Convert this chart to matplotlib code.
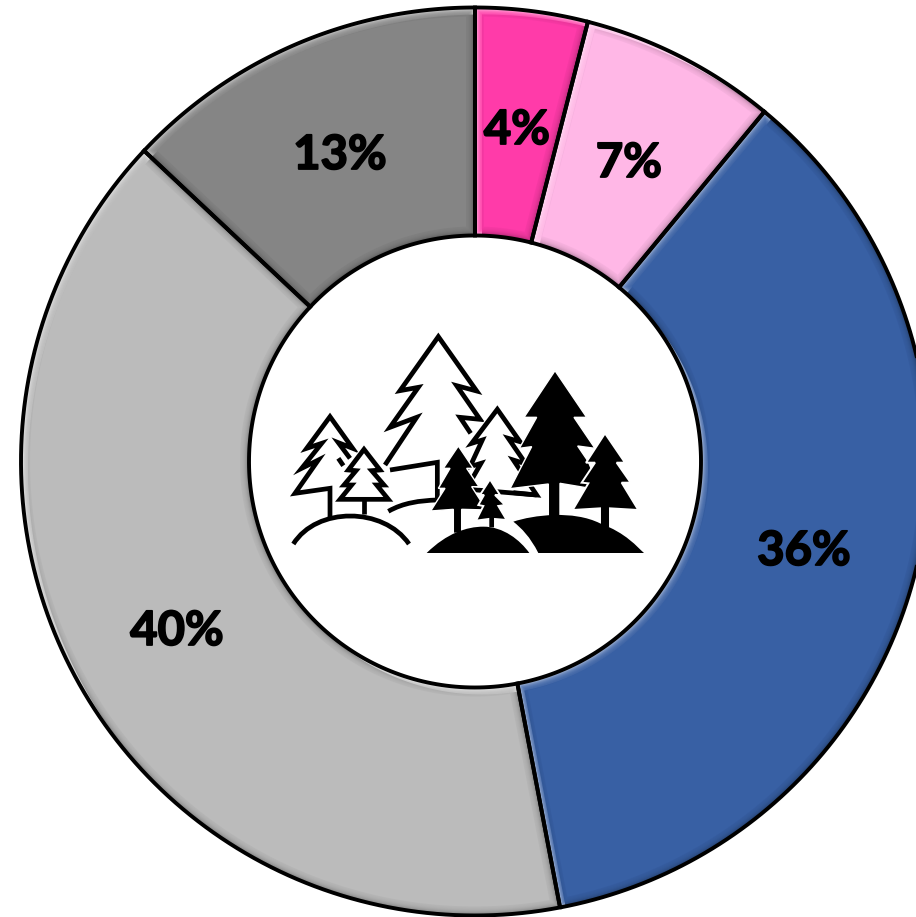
import numpy as np
import matplotlib
matplotlib.use("Agg")
import matplotlib.pyplot as plt
import matplotlib.patheffects as pe
from matplotlib.patches import Polygon, PathPatch
from matplotlib.path import Path
from matplotlib.colors import to_rgb

W, H = 916, 917
shares = [4, 7, 36, 40, 13]
labels = ["4%", "7%", "36%", "40%", "13%"]
colors = ["#FF3BA9", "#FFB7E6", "#3860A4", "#BBBBBB", "#858585"]
label_px = [(517, 130), (629, 163), (804, 551), (177, 631), (340, 155)]

CX, CY, R, RI = 475, 461.5, 454, 226
BEVEL = 9

fig = plt.figure(figsize=(W / 100, H / 100), dpi=100)
ax = fig.add_axes([0, 0, 1, 1])
wedges, _ = ax.pie(shares, colors=colors, startangle=90, counterclock=False,
                   radius=R, center=(CX, H - CY), frame=True,
                   wedgeprops=dict(width=R - RI, edgecolor="none", linewidth=0))
ax.set_xlim(0, W)
ax.set_ylim(0, H)
ax.set_aspect("equal")
ax.axis("off")


def mix(c, other, t):
    a, b = np.array(to_rgb(c)), np.array(to_rgb(other))
    return tuple(a + (b - a) * t)


def inset_poly(w, k, dx=0.0, dy=0.0):
    """Outline of wedge w shrunk by k pixels, optionally shifted."""
    r1, r0 = w.r - k, w.r - w.width + k
    t1, t2 = np.radians(w.theta1), np.radians(w.theta2)
    a1 = np.linspace(t1 + np.arcsin(k / r1), t2 - np.arcsin(k / r1), 120)
    a0 = np.linspace(t2 - np.arcsin(k / r0), t1 + np.arcsin(k / r0), 120)
    cx, cy = w.center
    xs = np.r_[cx + r1 * np.cos(a1), cx + r0 * np.cos(a0)] + dx
    ys = np.r_[cy + r1 * np.sin(a1), cy + r0 * np.sin(a0)] + dy
    return np.c_[xs, ys]


for w, c in zip(wedges, colors):
    clip = Polygon(inset_poly(w, 0), closed=True, transform=ax.transData, fc="none", ec="none")
    ax.add_patch(clip)
    # light from the upper left, shade towards the lower right
    light = mix(c, "white", 0.55)
    dark = mix(c, "black", 0.3)
    ax.add_patch(Polygon(inset_poly(w, 0), closed=True, fc=light, ec="none", zorder=2))
    p = Polygon(inset_poly(w, 0, 7, -7), closed=True, fc=dark, ec="none", zorder=2.1)
    ax.add_patch(p)
    p.set_clip_path(clip)
    n = BEVEL
    for i in range(2, n + 1):
        ax.add_patch(Polygon(inset_poly(w, i), closed=True, ec="none", zorder=2.2 + i * 0.01,
                             fc=c, alpha=0.28 if i < n else 1.0))
    ax.add_patch(Polygon(inset_poly(w, 0), closed=True, fc="none", ec="black", lw=2.8,
                         joinstyle="miter", zorder=3))

for (x, y), s in zip(label_px, labels):
    ax.text(x, H - y, s, ha="center", va="center", fontsize=34, fontweight="bold",
            family="Lato", color="black", zorder=5,
            path_effects=[pe.withStroke(linewidth=1.3, foreground="black")])

# ---- forest icon, outline given in icon units -------------------------------
def I(pts):
    return [(280 + x / 3, H - (320 + y / 3)) for x, y in pts]

Z = 6
SW = 3.4


def line(pts, lw=SW):
    xy = np.array(I(pts))
    ax.plot(xy[:, 0], xy[:, 1], color="black", lw=lw, solid_joinstyle="miter",
            solid_capstyle="butt", zorder=Z)


def poly(pts, fc="black", ec="none", lw=0.0):
    ax.add_patch(Polygon(I(pts), closed=True, fc=fc, ec=ec, lw=lw, joinstyle="miter", zorder=Z))


def curve(verts, codes, **kw):
    ax.add_patch(PathPatch(Path(I(verts), codes), zorder=Z, **kw))


M, L4, C4, CL = Path.MOVETO, Path.LINETO, Path.CURVE4, Path.CLOSEPOLY

# large outlined pine
line([(315, 435), (410, 292), (330, 322), (415, 202), (360, 212), (475, 50), (590, 213),
      (530, 197), (600, 298), (540, 292), (572, 340)])
line([(330, 450), (472, 427), (472, 545)])
# left outlined pine
line([(210, 415), (175, 368), (218, 385), (150, 290), (80, 385), (125, 370), (65, 445),
      (115, 420), (45, 520), (150, 505), (150, 592)])
line([(175, 415), (190, 437)])
# small outlined pine
small = [(252, 388), (300, 450), (275, 452), (312, 495), (290, 495), (325, 538), (180, 538),
         (215, 495), (192, 495), (228, 452), (205, 450)]
poly(small, fc="white", ec="white", lw=5)
poly(small, fc="white", ec="black", lw=SW)
line([(252, 538), (252, 582)])
# outlined hills
curve([(40, 672), (110, 560), (310, 560), (387, 672)], [M, C4, C4, C4],
      fc="none", ec="black", lw=SW)
curve([(325, 574), (370, 548), (420, 542), (470, 540)], [M, C4, C4, C4],
      fc="none", ec="black", lw=SW)
# outlined centre pine
centre = [(652, 268), (720, 365), (685, 355), (738, 432), (700, 420), (770, 525), (590, 510),
          (560, 505), (603, 430), (570, 440), (607, 360), (575, 370)]
poly(centre, fc="white", ec="white", lw=5)
poly(centre, fc="white", ec="black", lw=SW)
# tall black pine, in front of the centre pine
poly([(825, 152), (920, 292), (882, 292), (945, 385), (893, 378), (925, 425), (960, 510),
      (840, 490), (840, 590), (805, 590), (805, 492), (690, 506), (755, 380), (718, 385),
      (770, 292), (732, 292)], ec="white", lw=1.0)
line([(700, 518), (770, 525)])
# right black pine
poly([(975, 340), (1035, 428), (1010, 428), (1052, 488), (1025, 488), (1075, 570), (990, 565),
      (990, 625), (960, 625), (960, 565), (878, 570), (925, 490), (905, 488), (945, 428),
      (918, 428)], ec="white", lw=1.4)
# centre black pine
poly([(535, 378), (580, 445), (560, 445), (597, 500), (575, 500), (620, 570), (545, 568),
      (545, 640), (520, 640), (520, 568), (452, 573), (495, 505), (475, 505), (510, 445),
      (490, 445)], ec="white", lw=1.0)
# small black pine
poly([(630, 478), (660, 525), (645, 525), (675, 555), (655, 558), (680, 600), (645, 597),
      (645, 625), (625, 625), (625, 597), (588, 602), (610, 558), (595, 555), (612, 525),
      (600, 525)], ec="white", lw=1.4)
# black hills
curve([(700, 605), (760, 585), (880, 570), (960, 610), (1040, 640), (1070, 680), (1092, 699),
      (775, 699), (750, 650), (725, 625), (700, 605)],
      [M, C4, C4, C4, C4, C4, C4, L4, C4, C4, C4], fc="black", ec="none")
curve([(440, 699), (500, 640), (560, 620), (610, 620), (670, 620), (720, 660), (748, 699),
      (440, 699)], [M, C4, C4, C4, C4, C4, C4, CL], fc="black", ec="none")

fig.savefig("out.png", dpi=100, facecolor="white")
